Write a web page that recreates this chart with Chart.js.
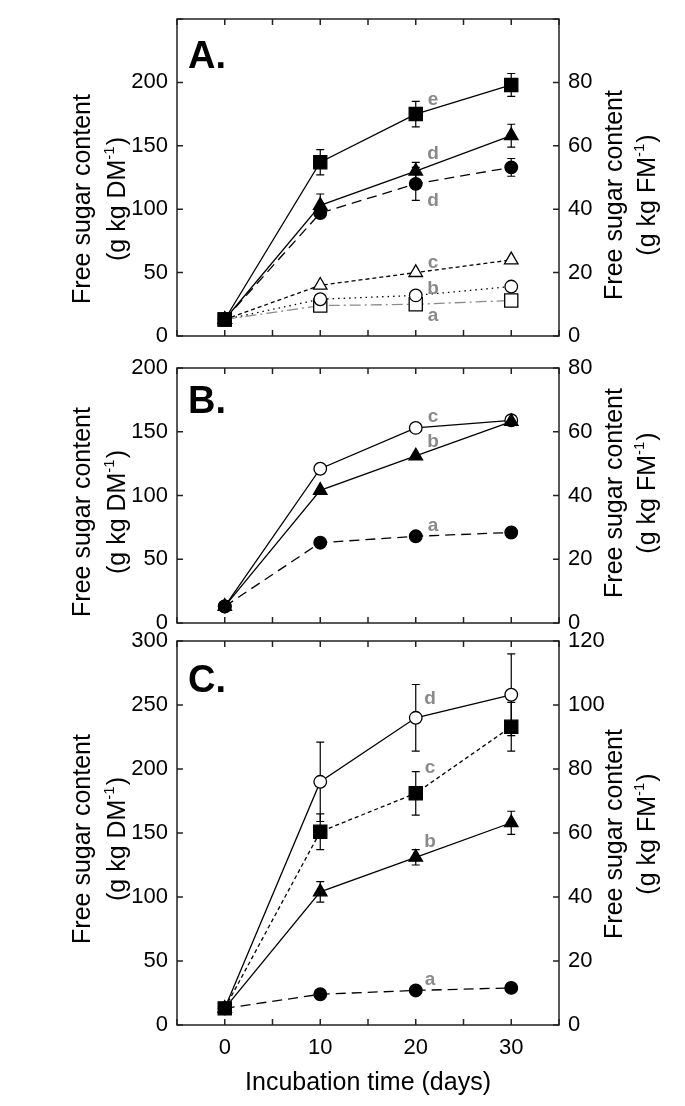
<!DOCTYPE html>
<html>
<head>
<meta charset="utf-8">
<script src="https://cdn.jsdelivr.net/npm/chart.js@4.4.0/dist/chart.umd.min.js"></script>
<style>
  html, body { margin: 0; padding: 0; background: #fff; }
  #wrap { position: relative; width: 685px; height: 1106px; }
  #wrap canvas { position: absolute; left: 0; top: 0; }
</style>
</head>
<body>
<div id="wrap">
  <canvas id="chartA" width="685" height="1106"></canvas>
  <canvas id="chartB" width="685" height="1106"></canvas>
  <canvas id="chartC" width="685" height="1106"></canvas>
</div>
<script>
// incubation days
const days = [0, 10, 20, 30];

// panel A (g kg DM-1)
const aSquareFilled = [13, 137, 175, 198];
const aSquareFilledErr = [0, 10, 10, 9];
const aTriFilled = [13, 103, 130, 158];
const aTriFilledErr = [0, 9, 7, 9];
const aCircleFilled = [13, 97, 120, 133];
const aCircleFilledErr = [0, 4, 13, 7];
const aTriOpen = [13, 40, 50, 60];
const aCircleOpen = [13, 29, 32, 39];
const aSquareOpen = [13, 24, 25, 28];
const aLetters = ['e', 'd', 'd', 'c', 'b', 'a'];
const aLetterX = [21.8, 21.8, 21.8, 21.8, 21.8, 21.8];
const aLetterY = [186, 144, 107, 58, 37, 16];

// panel B
const bCircleOpen = [13, 121, 153, 159];
const bTriFilled = [13, 104, 131, 158];
const bCircleFilled = [13, 63, 68, 71];
const bLetters = ['c', 'b', 'a'];
const bLetterX = [21.8, 21.8, 21.8];
const bLetterY = [162, 142, 76];

// panel C
const cCircleOpen = [13, 190, 240, 258];
const cCircleOpenErr = [0, 31, 26, 32];
const cSquareFilled = [13, 151, 181, 233];
const cSquareFilledErr = [0, 14, 17, 19];
const cTriFilled = [13, 104, 131, 158];
const cTriFilledErr = [0, 8, 6, 9];
const cCircleFilled = [13, 24, 27, 29];
const cLetters = ['d', 'c', 'b', 'a'];
const cLetterX = [21.5, 21.5, 21.5, 21.5];
const cLetterY = [255, 201, 143, 35];

// axis ranges
const xMin = -5, xMax = 35;
const yMaxA = 250, y2MaxA = 100;
const yMaxB = 200, y2MaxB = 80;
const yMaxC = 300, y2MaxC = 120;

const FONT = '"Liberation Sans", Arial, sans-serif';
Chart.defaults.font.family = FONT;
Chart.defaults.color = '#000';

const DASH_LONG = [10, 6];
const DASH_SHORT = [4, 3];
const DOTTED = [1.5, 4];
const DASH_DOT = [11, 4, 2, 4];

function series(values, errs, shape, filled, dash, lineColor) {
  const radius = shape === 'rect' ? 9.3 : (shape === 'triangle' ? 7.8 : 6.3);
  return {
    data: days.map((d, i) => ({ x: d, y: values[i] })),
    errors: errs,
    borderColor: lineColor || '#000',
    borderWidth: 1.3,
    borderDash: dash || [],
    pointStyle: shape,
    pointRadius: radius,
    pointBackgroundColor: filled ? '#000' : '#fff',
    pointBorderColor: '#000',
    pointBorderWidth: 1.3,
    tension: 0,
    fill: false
  };
}

function drawYTitle(ctx, cx1, cx2, cy, unit) {
  const main = '25px ' + FONT;
  const sup = '15px ' + FONT;
  ctx.save();
  ctx.fillStyle = '#000';
  ctx.textBaseline = 'middle';
  ctx.font = main;
  ctx.save();
  ctx.translate(cx1, cy);
  ctx.rotate(-Math.PI / 2);
  ctx.textAlign = 'center';
  ctx.fillText('Free sugar content', 0, 0);
  ctx.restore();

  const p1 = '(g kg ' + unit, s = '-1', p3 = ')';
  ctx.font = main;
  const w1 = ctx.measureText(p1).width;
  const w3 = ctx.measureText(p3).width;
  ctx.font = sup;
  const ws = ctx.measureText(s).width;
  const total = w1 + ws + w3 + 1;
  ctx.translate(cx2, cy);
  ctx.rotate(-Math.PI / 2);
  ctx.textAlign = 'left';
  const x0 = -total / 2;
  ctx.font = main;
  ctx.fillText(p1, x0, 0);
  ctx.font = sup;
  ctx.fillText(s, x0 + w1, -8);
  ctx.font = main;
  ctx.fillText(p3, x0 + w1 + ws + 1, 0);
  ctx.restore();
}

// error bars, frame with inward ticks, titles and letters
const panelDecor = {
  id: 'panelDecor',
  beforeDatasetsDraw(chart) {
    const ctx = chart.ctx;
    const xs = chart.scales.x, ys = chart.scales.y;
    ctx.save();
    ctx.strokeStyle = '#000';
    ctx.lineWidth = 1.2;
    chart.data.datasets.forEach(ds => {
      if (!ds.errors) return;
      ds.data.forEach((p, i) => {
        const e = ds.errors[i];
        if (!e) return;
        const px = xs.getPixelForValue(p.x);
        const top = ys.getPixelForValue(p.y + e);
        const bot = ys.getPixelForValue(p.y - e);
        ctx.beginPath();
        ctx.moveTo(px, top); ctx.lineTo(px, bot);
        ctx.moveTo(px - 4, top); ctx.lineTo(px + 4, top);
        ctx.moveTo(px - 4, bot); ctx.lineTo(px + 4, bot);
        ctx.stroke();
      });
    });
    ctx.restore();
  },
  afterDraw(chart, args, opts) {
    const ctx = chart.ctx;
    const { left, right, top, bottom } = chart.chartArea;
    const xs = chart.scales.x, ys = chart.scales.y, ys2 = chart.scales.y2;
    const tl = 6;
    ctx.save();
    ctx.strokeStyle = '#222';
    ctx.lineWidth = 1.5;
    ctx.beginPath();
    xs.ticks.forEach(t => {
      const px = xs.getPixelForValue(t.value);
      ctx.moveTo(px, top); ctx.lineTo(px, top + tl);
      ctx.moveTo(px, bottom); ctx.lineTo(px, bottom - tl);
    });
    ys.ticks.forEach(t => {
      const py = ys.getPixelForValue(t.value);
      ctx.moveTo(left, py); ctx.lineTo(left + tl, py);
    });
    ys2.ticks.forEach(t => {
      const py = ys2.getPixelForValue(t.value);
      ctx.moveTo(right, py); ctx.lineTo(right - tl, py);
    });
    ctx.stroke();
    ctx.strokeRect(left, top, right - left, bottom - top);

    // panel label
    ctx.fillStyle = '#000';
    ctx.font = 'bold 38px ' + FONT;
    ctx.textAlign = 'left';
    ctx.textBaseline = 'alphabetic';
    ctx.fillText(opts.panel, left + 11, top + opts.panelDy);

    // significance letters
    ctx.fillStyle = '#8a8a8a';
    ctx.font = 'bold 19px ' + FONT;
    ctx.textAlign = 'center';
    ctx.textBaseline = 'middle';
    opts.letters.forEach((l, i) => {
      ctx.fillText(l, xs.getPixelForValue(opts.letterX[i]), ys.getPixelForValue(opts.letterY[i]));
    });
    ctx.restore();

    drawYTitle(ctx, 83, 118, opts.leftTitleY, 'DM');
    drawYTitle(ctx, 615, 648, opts.rightTitleY, 'FM');
  }
};

function makePanel(id, cfg) {
  const zeroPad = s => { s.paddingTop = 0; s.paddingBottom = 0; s.paddingLeft = 0; s.paddingRight = 0; };
  return new Chart(document.getElementById(id), {
    type: 'line',
    data: { datasets: cfg.datasets },
    plugins: [panelDecor],
    options: {
      responsive: false,
      animation: false,
      events: [],
      layout: { padding: { top: cfg.top, left: 0, right: 0, bottom: 0 } },
      plugins: {
        legend: { display: false },
        tooltip: { enabled: false },
        panelDecor: cfg.decor
      },
      scales: {
        x: {
          type: 'linear',
          min: xMin, max: xMax,
          grid: { display: false, drawTicks: false },
          border: { display: false },
          ticks: {
            display: cfg.showX,
            stepSize: 5,
            padding: 10,
            font: { size: 22 },
            callback: v => (v % 10 === 0 && v >= 0 && v <= 30) ? String(v) : ''
          },
          title: {
            display: cfg.showX,
            text: 'Incubation time (days)',
            font: { size: 25 },
            padding: { top: 0, bottom: 8 }
          },
          afterFit: s => { s.height = cfg.xHeight; zeroPad(s); }
        },
        y: {
          position: 'left',
          min: 0, max: cfg.yMax,
          grid: { display: false, drawTicks: false },
          border: { display: false },
          ticks: {
            stepSize: 50, padding: 9, font: { size: 22 },
            callback: v => (cfg.hideTop && v === cfg.yMax) ? '' : String(v)
          },
          afterFit: s => { s.width = 177; zeroPad(s); }
        },
        y2: {
          position: 'right',
          min: 0, max: cfg.y2Max,
          grid: { display: false, drawTicks: false },
          border: { display: false },
          ticks: {
            stepSize: 20, padding: 9, font: { size: 22 },
            callback: v => (cfg.hideTop && v === cfg.y2Max) ? '' : String(v)
          },
          afterFit: s => { s.width = 126; zeroPad(s); }
        }
      }
    }
  });
}

makePanel('chartA', {
  top: 19, xHeight: 1106 - 336, showX: false, yMax: yMaxA, y2Max: y2MaxA, hideTop: true,
  datasets: [
    series(aSquareFilled, aSquareFilledErr, 'rect', true, []),
    series(aTriFilled, aTriFilledErr, 'triangle', true, []),
    series(aCircleFilled, aCircleFilledErr, 'circle', true, DASH_LONG),
    series(aTriOpen, null, 'triangle', false, DASH_SHORT),
    series(aCircleOpen, null, 'circle', false, DOTTED),
    series(aSquareOpen, null, 'rect', false, DASH_DOT, '#8c8c8c')
  ],
  decor: { panel: 'A.', panelDy: 49, letters: aLetters, letterX: aLetterX, letterY: aLetterY, leftTitleY: 199, rightTitleY: 195 }
});

makePanel('chartB', {
  top: 368, xHeight: 1106 - 623, showX: false, yMax: yMaxB, y2Max: y2MaxB, hideTop: false,
  datasets: [
    series(bCircleFilled, null, 'circle', true, DASH_LONG),
    series(bTriFilled, null, 'triangle', true, []),
    series(bCircleOpen, null, 'circle', false, [])
  ],
  decor: { panel: 'B.', panelDy: 45, letters: bLetters, letterX: bLetterX, letterY: bLetterY, leftTitleY: 512, rightTitleY: 493 }
});

makePanel('chartC', {
  top: 641, xHeight: 1106 - 1025, showX: true, yMax: yMaxC, y2Max: y2MaxC, hideTop: false,
  datasets: [
    series(cSquareFilled, cSquareFilledErr, 'rect', true, DASH_SHORT),
    series(cCircleOpen, cCircleOpenErr, 'circle', false, []),
    series(cTriFilled, cTriFilledErr, 'triangle', true, []),
    series(cCircleFilled, null, 'circle', true, DASH_LONG)
  ],
  decor: { panel: 'C.', panelDy: 51, letters: cLetters, letterX: cLetterX, letterY: cLetterY, leftTitleY: 839, rightTitleY: 834 }
});
</script>
</body>
</html>
